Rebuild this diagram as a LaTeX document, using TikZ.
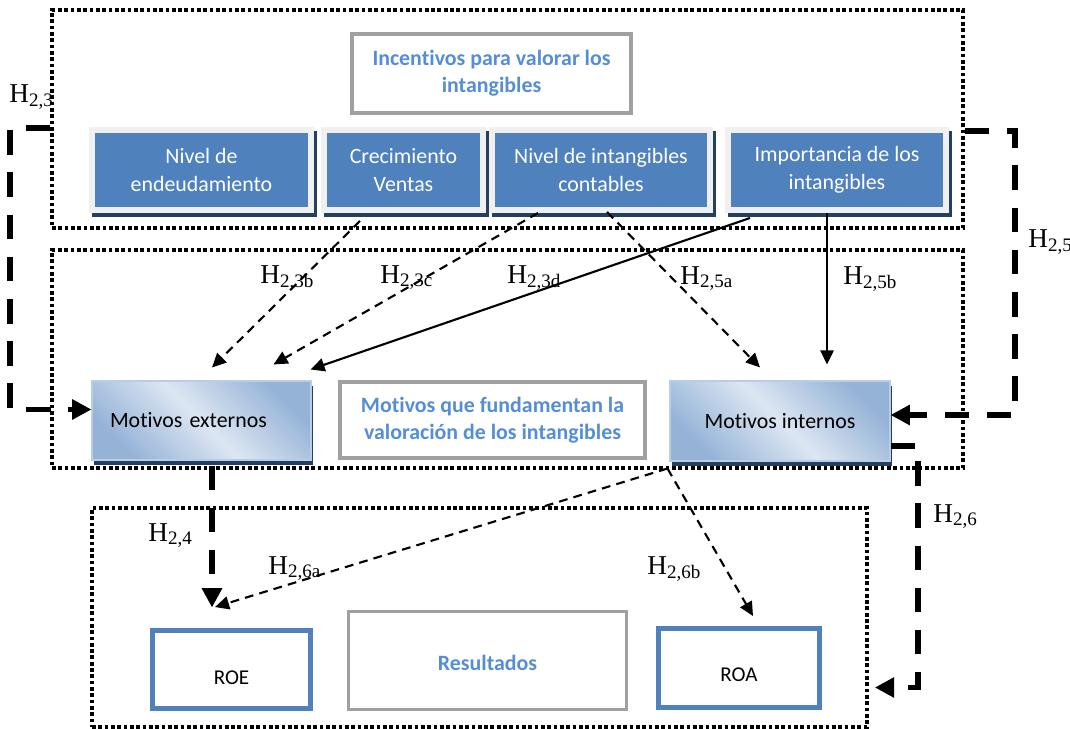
\documentclass[tikz,border=0pt]{standalone}
\usepackage{fontspec}
\newfontfamily\calfont{Carlito}[Ligatures=NoCommon]
\newfontfamily\serfont{Liberation Serif}
\usetikzlibrary{arrows.meta,calc}
% keeps t and i as separate letters (no ti ligature)
\newcommand\tisep{\kern0pt}

\definecolor{boxblue}{HTML}{4F81BD}
\definecolor{framegray}{HTML}{F0F0F0}
\definecolor{shadowblue}{HTML}{243F60}
\definecolor{titleblue}{HTML}{558ED5}
\definecolor{linegray}{HTML}{A0A0A0}
\definecolor{gdark}{HTML}{95B3D7}
\definecolor{glight}{HTML}{DCE6F2}
\definecolor{gedge}{HTML}{B9CDE5}

\begin{document}
\begin{tikzpicture}[x=0.02cm, y=-0.02cm,
  wh/.style 2 args={minimum width=#1*0.02cm, minimum height=#2*0.02cm},
  container/.style={draw, line width=2.1pt, dash pattern=on 2.1pt off 1.5pt, inner sep=0pt},
  heading/.style={draw=linegray, line width=2pt, fill=white, inner sep=0pt, align=center,
    text=titleblue, font=\calfont\bfseries\fontsize{12.45}{15.3}\selectfont},
  incentive/.style={draw=framegray, line width=3.4pt, fill=boxblue, inner sep=0pt, align=center,
    text=white, font=\calfont\fontsize{12.45}{15.9}\selectfont,
    preaction={draw=shadowblue, fill=shadowblue, line width=3.4pt,
      transform canvas={xshift=1.7pt, yshift=-2.3pt}}},
  motive/.style={draw=gedge, line width=0.6pt, inner sep=0pt,
    top color=gdark, bottom color=gdark, middle color=glight, shading angle=-45,
    font=\calfont\fontsize{12.45}{15.9}\selectfont,
    preaction={fill=shadowblue, transform canvas={xshift=1.2pt, yshift=-2.6pt}}},
  result/.style={draw=boxblue, line width=2.8pt, fill=white, inner sep=0pt,
    font=\calfont\fontsize{12}{14}\selectfont},
  hyp/.style={inner sep=0pt, font=\serfont\fontsize{15.5}{18}\selectfont, anchor=base west},
  thinarrow/.style={line width=1.2pt, -{Triangle[length=8pt,width=7.5pt]}},
  thindash/.style={thinarrow, dash pattern=on 5pt off 3.5pt},
  bigarrow/.style={line width=3.4pt, dash pattern=on 14pt off 10pt, line join=miter,
    -{Triangle[length=11pt,width=11pt]}}
]
\useasboundingbox (0,0) rectangle (1070,729);

% dotted group frames
\node[container, wh={911}{218}] (topgroup) at (507.5,119) {};
\node[container, wh={911}{218}] (midgroup) at (507.5,359) {};
\node[container, wh={775}{219}] (botgroup) at (479.5,617.5) {};

% incentives
\node[heading, wh={279}{79}] (incent) at (491.5,73.5) {Incent\tisep ivos para valorar los\\intangibles};
\node[incentive, wh={219}{80}] (nde)  at (201.5,170) {Nivel de\\endeudamiento};
\node[incentive, wh={159}{80}] (crec) at (403.5,170) {Crecimiento\\Ventas};
\node[incentive, wh={218}{80}] (nic)  at (601,170)   {Nivel de intangibles\\contables};
\node[incentive, wh={218}{80}] (imp)  at (837,170)   {Importancia de los\\intangibles};

% motives
\node[motive, wh={219}{79}, text width=3.66cm, align=left] (mext) at (201.5,420.5) {Mot\tisep ivos externos};
\node[heading, wh={305}{76}] (mtext) at (492.5,420) {Mot\tisep ivos que fundamentan la\\valoración de los intangibles};
\node[motive, wh={220}{80}] (mint) at (780,421) {Mot\tisep ivos internos};

% results
\node[result, wh={158}{78}] (roe) at (231.5,669.5) {};
\node[heading, wh={278}{98}, line width=1.7pt] (res) at (487.5,660.5) {};
\node[result, wh={161}{79}] (roa) at (739,668) {};
\node[result, draw=none, fill=none] at ($(roe.center)+(0,8)$) {ROE};
\node[heading, draw=none, fill=none] at ($(res.center)+(0,2)$) {Resultados};
\node[result, draw=none, fill=none] at ($(roa.center)+(0,7)$) {ROA};

% hypotheses: thick connectors
\draw[bigarrow] ($(topgroup.north west)+(0,120)$) -- ++(-40,0) |- ($(mext.west)+(0,-11)$);
\draw[bigarrow] ($(topgroup.north east)+(0,123)$) -- ++(50,0) |- ($(mint.east)+(0,-6)$);
\draw[bigarrow] ($(mint.east)+(0,25)$) -- ++(27,0) |- ($(botgroup.east)+(6,70)$);
\draw[bigarrow] ($(mext.south)+(10.5,5)$) -- ++(0,142);

% hypotheses: thin connectors
\draw[thindash]  ($(crec.south)+(-43.5,8)$) -- ($(mext.north)+(10.5,-13)$);
\draw[thindash]  ($(nic.south)+(-63,0)$)    -- ($(mext.north east)+(-38,-16)$);
\draw[thinarrow] ($(imp.south west)+(25,5)$) -- ($(mext.north east)+(-1,-11)$);
\draw[thindash]  ($(nic.south)+(6,-1)$)     -- ($(mint.north)+(-20,-13)$);
\draw[thinarrow] ($(imp.south)+(-10,0)$)    -- ($(mint.north)+(47,-16)$);
\coordinate (fork) at ($(mint.south west)+(-2,7)$);
\draw[thindash] (fork) -- ($(roe.north west)+(65,-21)$);
\draw[thindash] (fork) -- ($(roa.north)+(14,-10)$);

% hypothesis labels
\node[hyp] (h23)  at (9,103)    {H\textsubscript{2,3}};
\node[hyp] (h23b) at (260,283)  {H\textsubscript{2,3b}};
\node[hyp] (h23c) at (380,283)  {H\textsubscript{2,3c}};
\node[hyp] (h23d) at (507,283)  {H\textsubscript{2,3d}};
\node[hyp] (h25a) at (680,284)  {H\textsubscript{2,5a}};
\node[hyp] (h25b) at (843,284)  {H\textsubscript{2,5b}};
\node[hyp] (h25)  at (1028,248) {H\textsubscript{2,5}};
\node[hyp] (h26)  at (933,522)  {H\textsubscript{2,6}};
\node[hyp] (h24)  at (148,541)  {H\textsubscript{2,4}};
\node[hyp] (h26a) at (268,574)  {H\textsubscript{2,6a}};
\node[hyp] (h26b) at (647,574)  {H\textsubscript{2,6b}};
\end{tikzpicture}
\end{document}
